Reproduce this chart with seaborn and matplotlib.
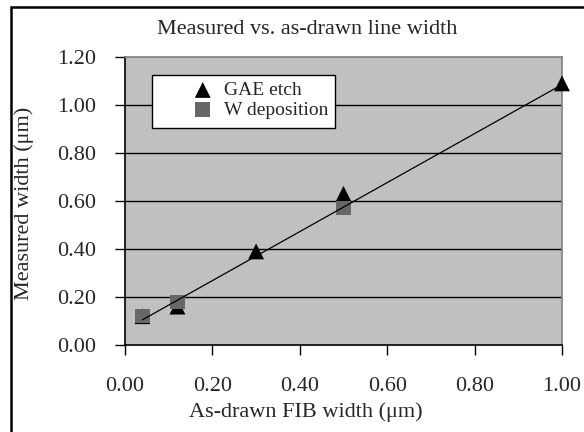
import pandas as pd
import matplotlib
matplotlib.use("Agg")
import matplotlib.pyplot as plt
from matplotlib.patches import Rectangle
import seaborn as sns

# datos
gae_x = [0.04, 0.12, 0.30, 0.50, 1.00]
gae_y = [0.12, 0.16, 0.39, 0.63, 1.09]
w_x = [0.04, 0.12, 0.50]
w_y = [0.12, 0.18, 0.57]
# linea de tendencia (extremos)
fit_x = [0.04, 1.00]
fit_y = [0.105, 1.085]
ticks_x = [0.0, 0.2, 0.4, 0.6, 0.8, 1.0]
ticks_y = [0.0, 0.2, 0.4, 0.6, 0.8, 1.0, 1.2]

df_gae = pd.DataFrame({"x": gae_x, "y": gae_y})
df_w = pd.DataFrame({"x": w_x, "y": w_y})
df_fit = pd.DataFrame({"x": fit_x, "y": fit_y})

sns.set_theme(style="ticks")
plt.rcParams["font.family"] = ["Liberation Serif", "DejaVu Serif"]

fig = plt.figure(figsize=(5.84, 4.32), dpi=100)
ax = fig.add_axes([125 / 584, 1 - 345 / 432, 437 / 584, 288 / 432])
ax.set_facecolor("#c0c0c0")

# borde exterior del grafico
fig.patches.append(Rectangle((11 / 584, -0.1), 1.2, 1.1 - 7 / 432,
                             transform=fig.transFigure, fill=False,
                             edgecolor="black", linewidth=1.8))

for v in ticks_y[1:-1]:
    ax.axhline(v, color="black", linewidth=1.0, zorder=1)

sns.scatterplot(data=df_gae, x="x", y="y", marker="^", s=130, color="black",
                edgecolor="none", ax=ax, zorder=3, label="GAE etch", clip_on=False)
sns.scatterplot(data=df_w, x="x", y="y", marker="s", s=110, color="#676767",
                edgecolor="none", ax=ax, zorder=4, label="W deposition", clip_on=False)
sns.lineplot(data=df_fit, x="x", y="y", color="black", linewidth=0.9, ax=ax, zorder=5)

ax.set_xlim(0, 1.0)
ax.set_ylim(0, 1.2)
ax.set_xticks(ticks_x)
ax.set_yticks(ticks_y)
ax.set_xticklabels([f"{t:.2f}" for t in ticks_x])
ax.set_yticklabels([f"{t:.2f}" for t in ticks_y])
ax.tick_params(axis="both", labelsize=16, length=7, width=1, color="black", direction="out")
ax.tick_params(axis="x", pad=16)
ax.tick_params(axis="y", pad=14)

for s in ["top", "right"]:
    ax.spines[s].set_color("#808080")
    ax.spines[s].set_linewidth(1.2)
for s in ["left", "bottom"]:
    ax.spines[s].set_color("black")
    ax.spines[s].set_linewidth(1.2)

ax.set_xlabel("As-drawn FIB width (\u03bcm)", fontsize=16)
ax.set_ylabel("Measured width (\u03bcm)", fontsize=16)
ax.xaxis.set_label_coords((306 - 125) / 437, (345 - 402) / 288)
ax.yaxis.set_label_coords((34 - 125) / 437, (345 - 203) / 288)

fig.text(307 / 584, 1 - 30 / 432, "Measured vs. as-drawn line width",
         fontsize=16, ha="center", va="center")

# caja de la leyenda
ax.add_patch(Rectangle((27 / 437, (345 - 128) / 288), 183 / 437, 53 / 288,
                       transform=ax.transAxes, facecolor="white",
                       edgecolor="black", linewidth=1.0, zorder=6))
leg = ax.legend(loc="center left", bbox_to_anchor=((193 - 125) / 437, (345 - 100) / 288),
                borderaxespad=0, borderpad=0, fontsize=14, frameon=False,
                handletextpad=0.62, labelspacing=0.1, handlelength=1.0)
leg.set_zorder(7)

fig.savefig("out.png", dpi=100)
